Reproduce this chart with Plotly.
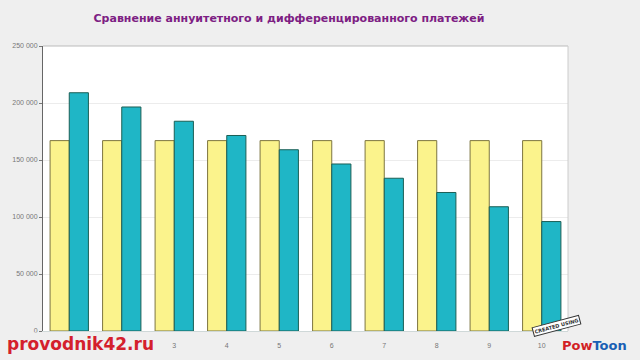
import plotly.graph_objects as go

periods = ["1", "2", "3", "4", "5", "6", "7", "8", "9", "10"]
annuity = [167000, 167000, 167000, 167000, 167000, 167000, 167000, 167000, 167000, 167000]
differentiated = [209000, 196500, 184000, 171500, 159000, 146500, 134000, 121500, 109000, 96000]
y_tickvals = [0, 50000, 100000, 150000, 200000, 250000]
y_ticktext = ["0", "50 000", "100 000", "150 000", "200 000", "250 000"]
title_text = "Сравнение аннуитетного и дифференцированного платежей"

fig = go.Figure()
fig.add_trace(go.Bar(x=periods, y=annuity, name="Аннуитетный",
                     marker=dict(color="#fbf38c", line=dict(color="#7d7540", width=1))))
fig.add_trace(go.Bar(x=periods, y=differentiated, name="Дифференцированный",
                     marker=dict(color="#1fb6c6", line=dict(color="#1b5f55", width=1))))

L, R, T, B = 43, 72, 46, 29
W, H = 640, 360
pw, ph = W - L - R, H - T - B

def px(x):
    return (x - L) / pw

def py(y):
    return (H - B - y) / ph

fig.update_layout(
    width=W, height=H,
    margin=dict(l=L, r=R, t=T, b=B, pad=0),
    paper_bgcolor="#efefef",
    plot_bgcolor="#ffffff",
    barmode="group",
    bargap=0.27,
    bargroupgap=0.0,
    showlegend=False,
    title=dict(text="<b>" + title_text + "</b>", x=289 / W, xanchor="center",
               y=1 - 18 / H, yanchor="middle",
               font=dict(family="DejaVu Sans", size=11, color="#7d2083")),
    xaxis=dict(showgrid=False, showline=True, linecolor="#cfd8d8", linewidth=1,
               mirror=False, ticks="", ticklabelstandoff=8,
               tickfont=dict(family="Arial", size=7, color="#777777"),
               zeroline=False),
    yaxis=dict(range=[0, 250000], tickvals=y_tickvals, ticktext=y_ticktext,
               showgrid=True, gridcolor="#ececec", gridwidth=1,
               showline=True, linecolor="#666666", linewidth=1,
               ticks="outside", ticklen=3, tickcolor="#777777",
               tickfont=dict(family="Arial", size=7, color="#777777"),
               zeroline=False),
    shapes=[
        dict(type="line", xref="paper", yref="paper", x0=0, x1=1, y0=1, y1=1,
             line=dict(color="#bbbbbb", width=1)),
        dict(type="line", xref="paper", yref="paper", x0=1, x1=1, y0=0, y1=1,
             line=dict(color="#cccccc", width=1)),
    ],
    annotations=[
        dict(text="<b>provodnik42.ru</b>", xref="paper", yref="paper",
             x=px(80), y=py(344), xanchor="center", yanchor="middle", showarrow=False,
             bgcolor="#efefef",
             font=dict(family="DejaVu Sans", size=17, color="#d4202c")),
        dict(text="<b>CREATED USING</b>", xref="paper", yref="paper",
             x=px(556), y=py(326), xanchor="center", yanchor="middle", showarrow=False,
             textangle=-15, bgcolor="#ffffff", bordercolor="#333333", borderwidth=1, borderpad=1,
             font=dict(family="DejaVu Sans", size=5, color="#333333")),
        dict(text="<b><span style='color:#d21f26'>Pow</span><span style='color:#1a5fb4'>Toon</span></b>",
             xref="paper", yref="paper", x=px(594), y=py(345), xanchor="center", yanchor="middle",
             showarrow=False, font=dict(family="DejaVu Sans", size=13)),
    ],
)

fig.write_html("out.html")
